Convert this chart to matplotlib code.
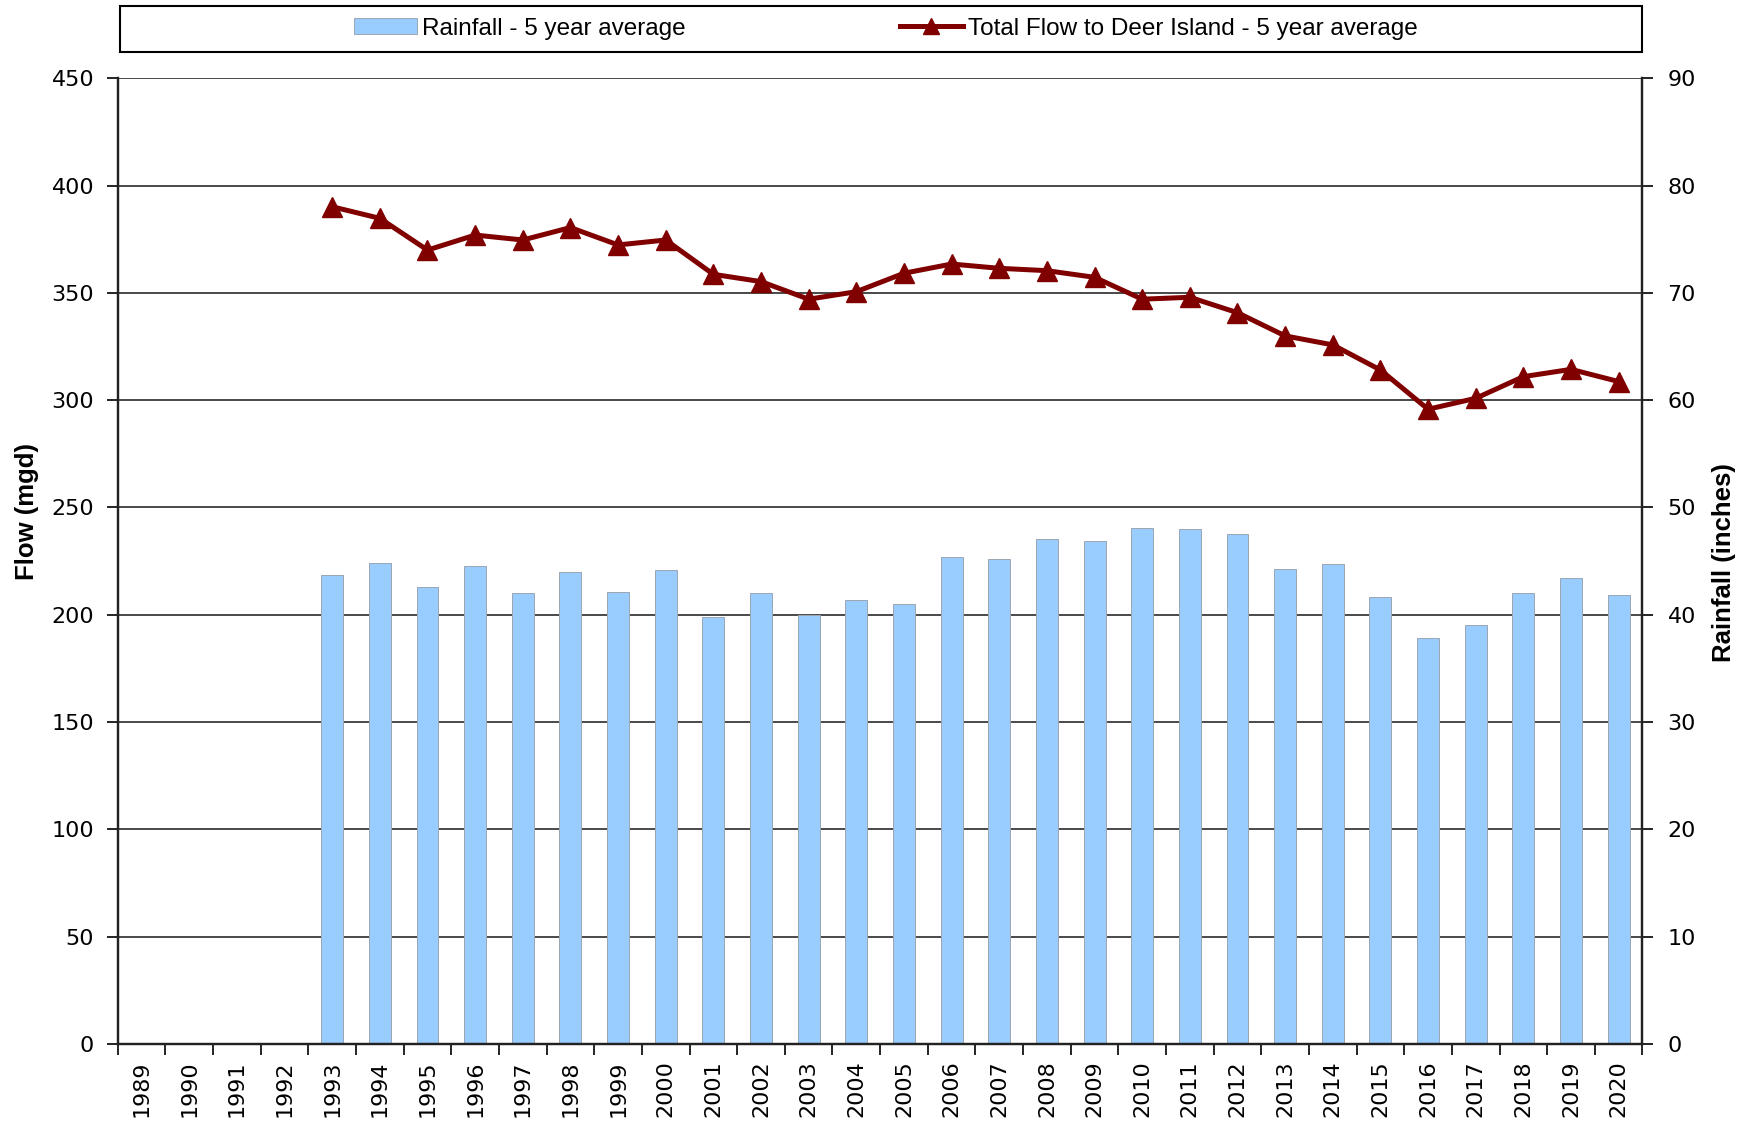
import numpy as np
import matplotlib
matplotlib.use("Agg")
import matplotlib.pyplot as plt
from matplotlib.patches import Rectangle
from matplotlib.ticker import MultipleLocator, FixedLocator

# -----------------------------
# Data
# -----------------------------
years = list(range(1989, 2021))
nan = np.nan

# Total flow to Deer Island - 5 year average (mgd)
flow = [nan, nan, nan, nan,
        390.2, 384.8, 370.0, 377.0, 374.7, 380.5, 372.4, 374.7,
        358.7, 355.3, 347.1, 350.6, 359.2, 363.5, 361.5, 360.4,
        357.3, 347.1, 348.0, 340.8, 330.0, 325.8, 314.1, 295.8,
        300.9, 311.0, 314.4, 308.7]

# Rainfall - 5 year average (inches)
rain = [nan, nan, nan, nan,
        43.7, 44.8, 42.6, 44.5, 42.0, 44.0, 42.1, 44.2,
        39.8, 42.0, 40.0, 41.4, 41.0, 45.4, 45.2, 47.1,
        46.9, 48.1, 48.0, 47.5, 44.3, 44.7, 41.7, 37.8,
        39.0, 42.0, 43.4, 41.8]

tick_font = "DejaVu Sans"
text_font = ["Liberation Sans", "DejaVu Sans"]

# -----------------------------
# Figure
# -----------------------------
fig = plt.figure(figsize=(17.58, 11.21), dpi=100)
ax = fig.add_axes([0.0670, 0.0689, 0.8673, 0.8611])
ax2 = ax.twinx()

x = np.arange(len(years))

# bars on the right axis, drawn underneath
ax2.set_ylim(0, 90)
ax2.yaxis.set_major_locator(MultipleLocator(10))
for v in range(10, 91, 10):
    ax2.axhline(v, color="#3a3a3a", lw=1.3, zorder=0)
bars = ax2.bar(x, rain, width=0.46, color="#99CCFF", edgecolor="#9aa6b2",
               linewidth=0.7, zorder=2, label="Rainfall - 5 year average")

# line on the left axis, drawn on top
ax.set_zorder(ax2.get_zorder() + 1)
ax.patch.set_visible(False)
line, = ax.plot(x, flow, color="#800000", lw=3.6, marker="^", markersize=14,
                label="Total Flow to Deer Island - 5 year average")
ax.set_ylim(0, 450)
ax.yaxis.set_major_locator(MultipleLocator(50))
ax.set_xlim(-0.5, len(years) - 0.5)

# x ticks: marks at category boundaries, labels at centres
ax.xaxis.set_major_locator(FixedLocator(np.arange(-0.5, len(years), 1.0)))
ax.xaxis.set_minor_locator(FixedLocator(x))
ax.set_xticklabels([])
ax.set_xticklabels([str(y) for y in years], minor=True, rotation=90,
                   family=tick_font, fontsize=16)
ax.tick_params(axis="x", which="major", direction="out", length=8, width=1.2)
ax.tick_params(axis="x", which="minor", length=0, pad=12)

for t in ax.get_yticklabels():
    t.set_family(tick_font)
ax.tick_params(axis="y", direction="out", length=8, width=1.2, pad=9, labelsize=16)
ax2.tick_params(axis="y", direction="out", length=8, width=1.2, pad=10, labelsize=16)
for t in ax2.get_yticklabels():
    t.set_family(tick_font)

for a in (ax, ax2):
    a.spines["top"].set_visible(False)
    for s in ("left", "right", "bottom"):
        a.spines[s].set_linewidth(1.6)
        a.spines[s].set_color("#222222")

ax.set_ylabel("Flow (mgd)", family=text_font, fontsize=18.5, fontweight="bold")
ax.yaxis.set_label_coords(-0.052, 0.551)
ax2.set_ylabel("Rainfall (inches)", family=text_font, fontsize=18.5,
               fontweight="bold")
ax2.yaxis.set_label_coords(1.0456, 0.498)

# -----------------------------
# Legend box across the top
# -----------------------------
fig.patches.append(Rectangle((0.0683, 0.954), 0.8658, 0.041,
                             transform=fig.transFigure, fill=False,
                             edgecolor="black", linewidth=1.5))
fig.legend([bars, line], [bars.get_label(), line.get_label()],
           loc="center", bbox_to_anchor=(0.5038, 0.9745), ncol=2,
           frameon=False, prop={"family": text_font, "size": 17.5},
           handlelength=2.6, handleheight=0.6, handletextpad=0.2,
           columnspacing=8.8, markerscale=0.85)

plt.savefig("out.png", dpi=100)
plt.close()
